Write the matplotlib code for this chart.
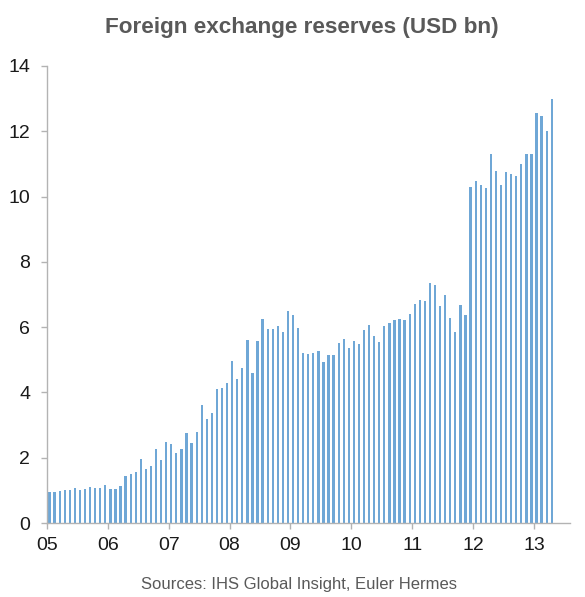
import matplotlib
matplotlib.use("Agg")
import matplotlib.pyplot as plt
from matplotlib.transforms import ScaledTranslation
import numpy as np

# Monthly FX reserves, Jan 2005 - Apr 2013 (USD bn)
values_2005 = [0.95, 0.95, 0.98, 1.00, 1.01, 1.06, 1.02, 1.05, 1.11, 1.07, 1.07, 1.16]
values_2006 = [1.03, 1.05, 1.13, 1.43, 1.49, 1.57, 1.95, 1.64, 1.74, 2.28, 1.92, 2.49]
values_2007 = [2.42, 2.14, 2.28, 2.76, 2.45, 2.78, 3.61, 3.20, 3.37, 4.12, 4.15, 4.28]
values_2008 = [4.97, 4.42, 4.76, 5.61, 4.61, 5.58, 6.24, 5.93, 5.95, 6.03, 5.85, 6.48]
values_2009 = [6.37, 5.98, 5.22, 5.18, 5.21, 5.27, 4.93, 5.15, 5.15, 5.51, 5.63, 5.36]
values_2010 = [5.59, 5.47, 5.91, 6.08, 5.72, 5.53, 6.04, 6.14, 6.21, 6.26, 6.21, 6.41]
values_2011 = [6.70, 6.82, 6.80, 7.35, 7.28, 6.66, 6.99, 6.29, 5.86, 6.67, 6.38, 10.29]
values_2012 = [10.47, 10.36, 10.25, 11.30, 10.77, 10.34, 10.74, 10.69, 10.62, 11.00, 11.30, 11.30]
values_2013 = [12.57, 12.47, 12.00, 12.99]
year_labels = ["05", "06", "07", "08", "09", "10", "11", "12", "13"]

values = (values_2005 + values_2006 + values_2007 + values_2008 + values_2009
          + values_2010 + values_2011 + values_2012 + values_2013)
x = np.arange(len(values))

plt.rcParams['font.family'] = ['Liberation Sans', 'DejaVu Sans']

fig = plt.figure(figsize=(5.85, 5.97), dpi=100)
ax = fig.add_axes([47/585, 74/597, (570-47)/585, (523-66)/597])

ax.bar(x, values, width=0.45, color='#6fa7d6', edgecolor='none')

ax.set_xlim(-0.5, 102.6)
ax.set_ylim(0, 14)
ax.set_yticks(range(0, 15, 2))

tick_pos = [12*i - 0.5 for i in range(len(year_labels))]
ax.set_xticks(tick_pos)
ax.set_xticklabels(year_labels)
for lab in ax.get_xticklabels():
    lab.set_transform(lab.get_transform() + ScaledTranslation(3/100, 0, fig.dpi_scale_trans))

for s in ['top', 'right']:
    ax.spines[s].set_visible(False)
for s in ['left', 'bottom']:
    ax.spines[s].set_color('#b3b3b3')
    ax.spines[s].set_linewidth(1.0)

ax.tick_params(axis='both', direction='out', length=4, width=1, color='#b3b3b3',
               labelsize=14, labelcolor='#1a1a1a')
ax.tick_params(axis='y', pad=8)
ax.tick_params(axis='x', pad=6)

fig.text(0.516, 1 - 27/597, "Foreign exchange reserves (USD bn)", ha='center', va='center',
         fontsize=16.2, fontweight='bold', color='#595959')
fig.text(0.511, 1 - 585/597, "Sources: IHS Global Insight, Euler Hermes", ha='center', va='center',
         fontsize=12, color='#595959')

fig.savefig("out.png", dpi=100)
